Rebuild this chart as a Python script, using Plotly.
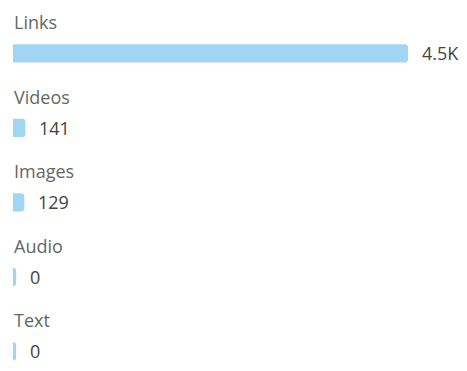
import plotly.graph_objects as go

# Content types and their counts
categories = ["Links", "Videos", "Images", "Audio", "Text"]
values = [4500, 141, 129, 0, 0]
value_labels = ["4.5K", "141", "129", "0", "0"]

BAR_COLOR = "#A0D6F4"
LABEL_COLOR = "#666666"
VALUE_COLOR = "#444444"
FONT = "Open Sans"

vmax = max(values)
# zero counts still get a thin stub so the row is visible
stub = vmax * 0.008
lengths = [max(v, stub) for v in values]
rows = list(range(len(categories)))

fig = go.Figure(
    go.Bar(
        x=lengths,
        y=rows,
        orientation="h",
        width=0.245,
        marker=dict(color=BAR_COLOR, line=dict(width=0), cornerradius=3),
        hoverinfo="skip",
    )
)

annotations = []
for i, (cat, lab, ln) in enumerate(zip(categories, value_labels, lengths)):
    annotations.append(dict(
        x=0, y=i, xref="x", yref="y", text=cat, showarrow=False,
        xanchor="left", yanchor="middle", xshift=-1, yshift=31,
        font=dict(family=FONT, size=18, color=LABEL_COLOR),
    ))
    annotations.append(dict(
        x=ln, y=i, xref="x", yref="y", text=lab, showarrow=False,
        xanchor="left", yanchor="middle", xshift=12, yshift=0,
        font=dict(family=FONT, size=18, color=VALUE_COLOR),
    ))

fig.update_layout(
    width=467, height=371,
    margin=dict(l=13, r=59, t=0, b=0),
    paper_bgcolor="white", plot_bgcolor="white",
    showlegend=False,
    xaxis=dict(range=[0, vmax], visible=False, fixedrange=True),
    yaxis=dict(range=[4.262, -0.718], visible=False, fixedrange=True),
    annotations=annotations,
)

fig.write_html("out.html", config={"displayModeBar": False})
